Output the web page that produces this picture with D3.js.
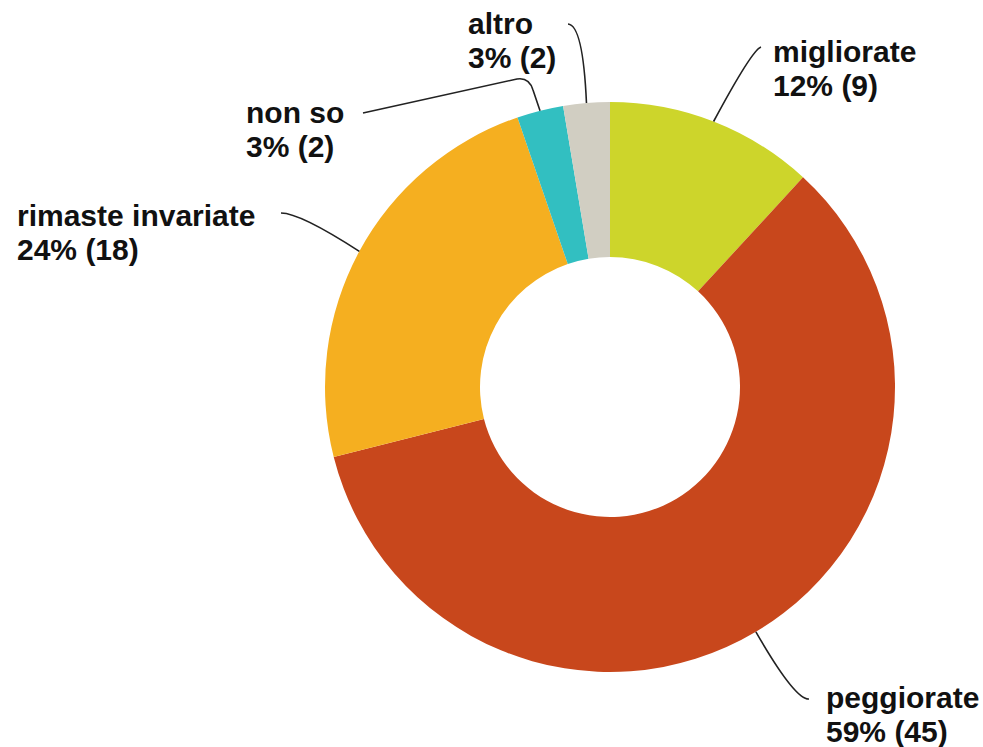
<!DOCTYPE html>
<html>
<head>
<meta charset="utf-8">
<script src="https://cdn.jsdelivr.net/npm/d3@7"></script>
<style>
  html, body { margin: 0; padding: 0; background: #ffffff; }
  svg { display: block; }
  text { font-family: "Liberation Sans", Arial, sans-serif; font-weight: bold; fill: #111; }
</style>
</head>
<body>
<svg id="chart" width="983" height="747"></svg>
<script>
// ---- data ----
const categories = ["migliorate", "peggiorate", "rimaste invariate", "non so", "altro"];
const counts = [9, 45, 18, 2, 2];
const percentLabels = ["12%", "59%", "24%", "3%", "3%"];
const colors = ["#CDD52B", "#C8471C", "#F5AF20", "#32BFC1", "#D1CEC2"];

// ---- layout (label anchors & leader shapes) ----
const labelPos = [
  { x: 773, y: 62,  cx: 752, cy: 50,  ex: 761, ey: 47 },
  { x: 826, y: 708, cx: 795, cy: 700, ex: 809, ey: 699 },
  { x: 17,  y: 226, cx: 300, cy: 213, ex: 281, ey: 213 },
  { x: 246, y: 123, cx: 529, cy: 77,  ex: 363, ey: 113, ax: 533, ay: 90, bx: 517, by: 79 },
  { x: 468, y: 34,  cx: 583, cy: 25,  ex: 568, ey: 24 }
];

const cx = 610, cy = 387, rOuter = 285, rInner = 130;
const svg = d3.select("#chart");
const g = svg.append("g").attr("transform", `translate(${cx},${cy})`);

const pie = d3.pie().value(d => d.value).sort(null);
const data = categories.map((c, i) => ({ name: c, value: counts[i], pct: percentLabels[i], color: colors[i], pos: labelPos[i] }));
const arcs = pie(data);

const arc = d3.arc().innerRadius(rInner).outerRadius(rOuter);

g.selectAll("path.slice")
  .data(arcs)
  .join("path")
  .attr("class", "slice")
  .attr("d", arc)
  .attr("fill", d => d.data.color);

// leader lines
const edgeArc = d3.arc().innerRadius(rOuter).outerRadius(rOuter);
arcs.forEach(a => {
  const p = a.data.pos;
  const mid = (a.startAngle + a.endAngle) / 2;
  const x0 = cx + rOuter * Math.sin(mid);
  const y0 = cy - rOuter * Math.cos(mid);
  const path = d3.path();
  path.moveTo(x0, y0);
  if (p.ax !== undefined) {
    path.lineTo(p.ax, p.ay);
    path.quadraticCurveTo(p.cx, p.cy, p.bx, p.by);
    path.lineTo(p.ex, p.ey);
  } else {
    path.quadraticCurveTo(p.cx, p.cy, p.ex, p.ey);
  }
  svg.append("path")
    .attr("d", path.toString())
    .attr("fill", "none")
    .attr("stroke", "#222")
    .attr("stroke-width", 1.6);
});

// labels
arcs.forEach(a => {
  const p = a.data.pos;
  const t = svg.append("text")
    .attr("x", p.x)
    .attr("y", p.y)
    .style("font-size", "30px");
  t.append("tspan").attr("x", p.x).attr("y", p.y).text(a.data.name);
  t.append("tspan").attr("x", p.x).attr("y", p.y + 34).text(`${a.data.pct} (${a.data.value})`);
});
</script>
</body>
</html>
